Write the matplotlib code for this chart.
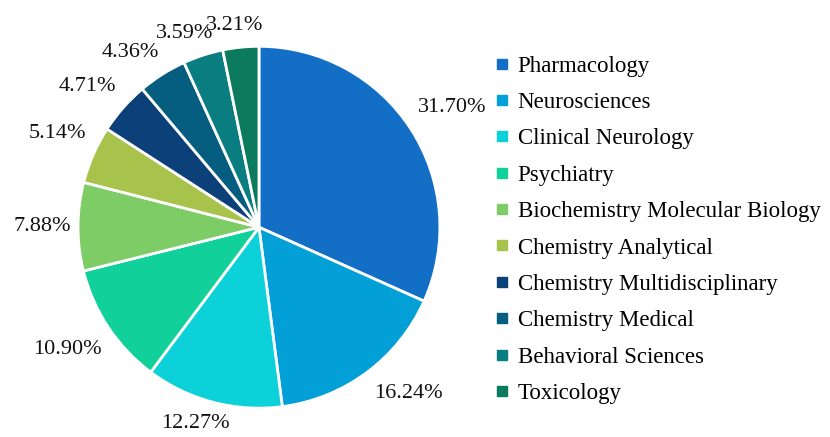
import numpy as np
import matplotlib.pyplot as plt
from matplotlib.lines import Line2D

categories = ['Pharmacology', 'Neurosciences', 'Clinical Neurology', 'Psychiatry',
              'Biochemistry Molecular Biology', 'Chemistry Analytical',
              'Chemistry Multidisciplinary', 'Chemistry Medical',
              'Behavioral Sciences', 'Toxicology']
shares = [31.70, 16.24, 12.27, 10.90, 7.88, 5.14, 4.71, 4.36, 3.59, 3.21]
colors = ['#136fc6', '#03a0d8', '#0cd1d9', '#12d09a', '#7dcc66', '#a8c34b',
          '#0c4079', '#055d80', '#0a7d80', '#0c7a5c']

plt.rcParams['font.family'] = ['Liberation Serif', 'DejaVu Serif']

fig = plt.figure(figsize=(8.3, 4.37), dpi=100)
ax = fig.add_axes([0.094, 0.066, 0.436, 0.828])
wedges, _ = ax.pie(shares, colors=colors, startangle=90, counterclock=False,
                   wedgeprops=dict(edgecolor='white', linewidth=2))
ax.set_xlim(-1, 1)
ax.set_ylim(-1, 1)
ax.set_aspect('equal')

# labels sit just outside the rim, boxed off the edge point ("outside end")
fig.canvas.draw()
renderer = fig.canvas.get_renderer()
px = ax.transData.transform((1, 0))[0] - ax.transData.transform((0, 0))[0]
for w, v in zip(wedges, shares):
    ang = np.deg2rad((w.theta1 + w.theta2) / 2)
    t = ax.text(0, 0, f'{v:.2f}%', fontsize=16, color='#111111',
                ha='center', va='center', clip_on=False)
    bb = t.get_window_extent(renderer)
    ox = (bb.width / 2 + 7) / px * np.clip(np.cos(ang) / 0.6, -1, 1)
    oy = (bb.height * 0.4 + 14) / px * np.clip(np.sin(ang) / 0.3, -1, 1)
    t.set_position((np.cos(ang) + ox, np.sin(ang) + oy))

handles = [Line2D([], [], marker='s', linestyle='none', markersize=7.5,
                  markerfacecolor=c, markeredgecolor=c) for c in colors]
fig.legend(handles, categories, loc='upper left', bbox_to_anchor=(0.581, 0.894),
           frameon=False, fontsize=16.5, handletextpad=0.25, labelspacing=0.67,
           handlelength=0.9, borderaxespad=0)

fig.savefig('out.png', dpi=100)
